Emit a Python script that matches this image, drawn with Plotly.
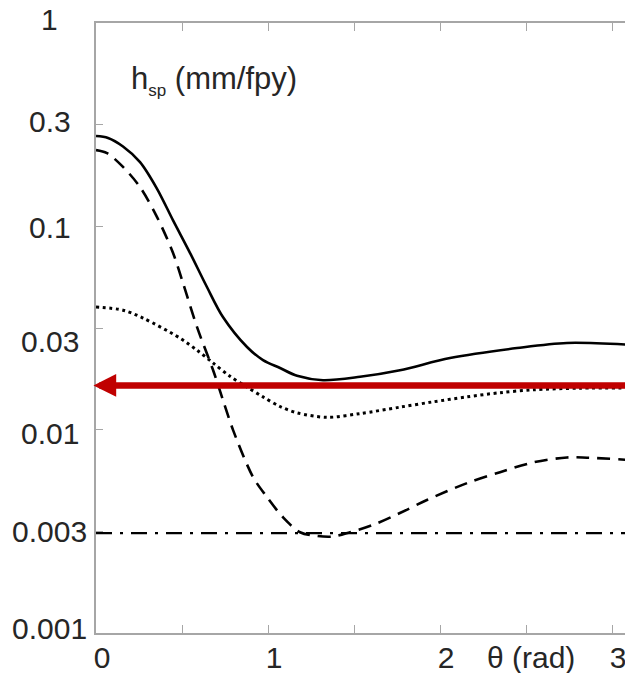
import plotly.graph_objects as go
import numpy as np

# ---- data ----
theta_solid = [0.0, 0.07, 0.157, 0.256, 0.355, 0.448, 0.547, 0.645, 0.738, 0.878, 0.971,
               1.070, 1.169, 1.320, 1.535, 1.767, 2.058, 2.448, 2.738, 3.122]
h_solid = [0.278, 0.272, 0.247, 0.207, 0.153, 0.107, 0.0739, 0.0503, 0.0358, 0.0255, 0.0220,
           0.0201, 0.0184, 0.0175, 0.0182, 0.0196, 0.0225, 0.0252, 0.0267, 0.0261]

theta_dash = [0.0, 0.064, 0.157, 0.256, 0.355, 0.448, 0.506, 0.587, 0.680, 0.738,
              0.797, 0.913, 0.994, 1.087, 1.186, 1.285, 1.378, 1.477, 1.610, 1.767,
              1.924, 2.157, 2.349, 2.541, 2.738, 2.855, 3.122]
h_dash = [0.237, 0.229, 0.196, 0.156, 0.111, 0.0739, 0.0526, 0.0320, 0.0197, 0.0140,
          0.00995, 0.00585, 0.00466, 0.00371, 0.00313, 0.00300, 0.00298, 0.00313, 0.00340, 0.00389,
          0.00451, 0.00546, 0.00618, 0.00690, 0.00730, 0.00728, 0.00708]

theta_dot = [0.0, 0.157, 0.273, 0.488, 0.587, 0.680, 0.779, 0.878, 0.971, 1.070,
             1.169, 1.343, 1.535, 1.767, 1.959, 2.157, 2.349, 2.541, 2.814, 3.122]
h_dot = [0.0401, 0.0387, 0.0354, 0.0282, 0.0246, 0.0213, 0.0183, 0.0162, 0.0145, 0.0130,
         0.0121, 0.0115, 0.0120, 0.0129, 0.0137, 0.0145, 0.0152, 0.0157, 0.0160, 0.0160]

theta_dashdot = [0.0, 3.122]
h_dashdot = [0.0031, 0.0031]

h_arrow = 0.0165  # red reference level

x_range = [0.0, 3.122]
x_tick_vals = [0, 0.5, 1, 1.5, 2, 2.5, 3]
x_tick_text = ["0", " ", "1", " ", "2", " ", "3"]

y_tick_exps = [0, -0.5, -1, -1.5, -2, -2.5, -3]
y_tick_text = ["1", "0.3", "0.1", "0.03", "0.01", "0.003", "0.001"]
y_label_nudge = [4, 3, -1, -13, -4, 0, 5]   # px, manual label placement

FONT = "Liberation Sans, Arial, sans-serif"
TXT = "#262626"
AXC = "#A6A6A6"

# the page body adds an 8px margin, so the figure is 16px smaller than the window
W, H = 625, 665
L, T, B = 88, 15, 40

fig = go.Figure()

fig.add_trace(go.Scatter(x=theta_solid, y=h_solid, mode="lines",
                         line=dict(color="black", width=2.6, shape="spline", smoothing=0.9)))
fig.add_trace(go.Scatter(x=theta_dash, y=h_dash, mode="lines",
                         line=dict(color="black", width=2.6, dash="13px,8px", shape="spline", smoothing=0.9)))
fig.add_trace(go.Scatter(x=theta_dot, y=h_dot, mode="lines",
                         line=dict(color="black", width=3, dash="3px,3.6px", shape="spline", smoothing=0.9)))
fig.add_trace(go.Scatter(x=theta_dashdot, y=h_dashdot, mode="lines",
                         line=dict(color="black", width=2.4, dash="16px,8px,3px,8px")))

plot_w = W - L
annotations = []
# red arrow
annotations.append(dict(x=-0.015, y=np.log10(h_arrow), ax=x_range[1], ay=np.log10(h_arrow),
                        xref="x", yref="y", axref="x", ayref="y", text=" ",
                        font=dict(size=1), borderpad=0,
                        showarrow=True, arrowhead=2, arrowsize=0.7, arrowwidth=6.5,
                        arrowcolor="#C00000", standoff=0))
# y tick labels, centred in the left margin
for e, t, n in zip(y_tick_exps, y_tick_text, y_label_nudge):
    annotations.append(dict(x=-(L - 42) / plot_w, y=e, xref="paper", yref="y", text=t,
                            showarrow=False, xanchor="center", yanchor="middle",
                            yshift=n, font=dict(family=FONT, size=30, color=TXT)))
# axis titles
annotations.append(dict(x=2.529, y=-0.04, xref="x", yref="paper", text="θ (rad)",
                        showarrow=False, xanchor="center", yanchor="middle",
                        font=dict(family=FONT, size=30, color=TXT)))
annotations.append(dict(x=0.19, y=0.905, xref="x", yref="paper",
                        text="h<sub><span style='font-size:17px'>sp</span></sub> (mm/fpy)",
                        showarrow=False, xanchor="left", yanchor="middle",
                        font=dict(family=FONT, size=31, color=TXT)))

fig.update_layout(
    width=W, height=H,
    margin=dict(l=L, r=0, t=T, b=B),
    paper_bgcolor="white", plot_bgcolor="white",
    showlegend=False,
    annotations=annotations,
    xaxis=dict(range=x_range, tickmode="array", tickvals=x_tick_vals, ticktext=x_tick_text,
               ticks="inside", ticklen=8, tickwidth=1.3, tickcolor=AXC,
               showline=True, linecolor=AXC, linewidth=1.5, mirror="ticks",
               showgrid=False, zeroline=False, automargin=False,
               ticklabelshift=6, ticklabelstandoff=-3,
               tickfont=dict(family=FONT, size=30, color=TXT)),
    yaxis=dict(type="log", range=[-3, 0], tickmode="array",
               tickvals=[10 ** e for e in y_tick_exps], showticklabels=False,
               ticks="inside", ticklen=7, tickwidth=1.3, tickcolor=AXC,
               showline=True, linecolor=AXC, linewidth=1.5, mirror="ticks",
               showgrid=False, zeroline=False, automargin=False),
)

fig.write_html("out.html")
